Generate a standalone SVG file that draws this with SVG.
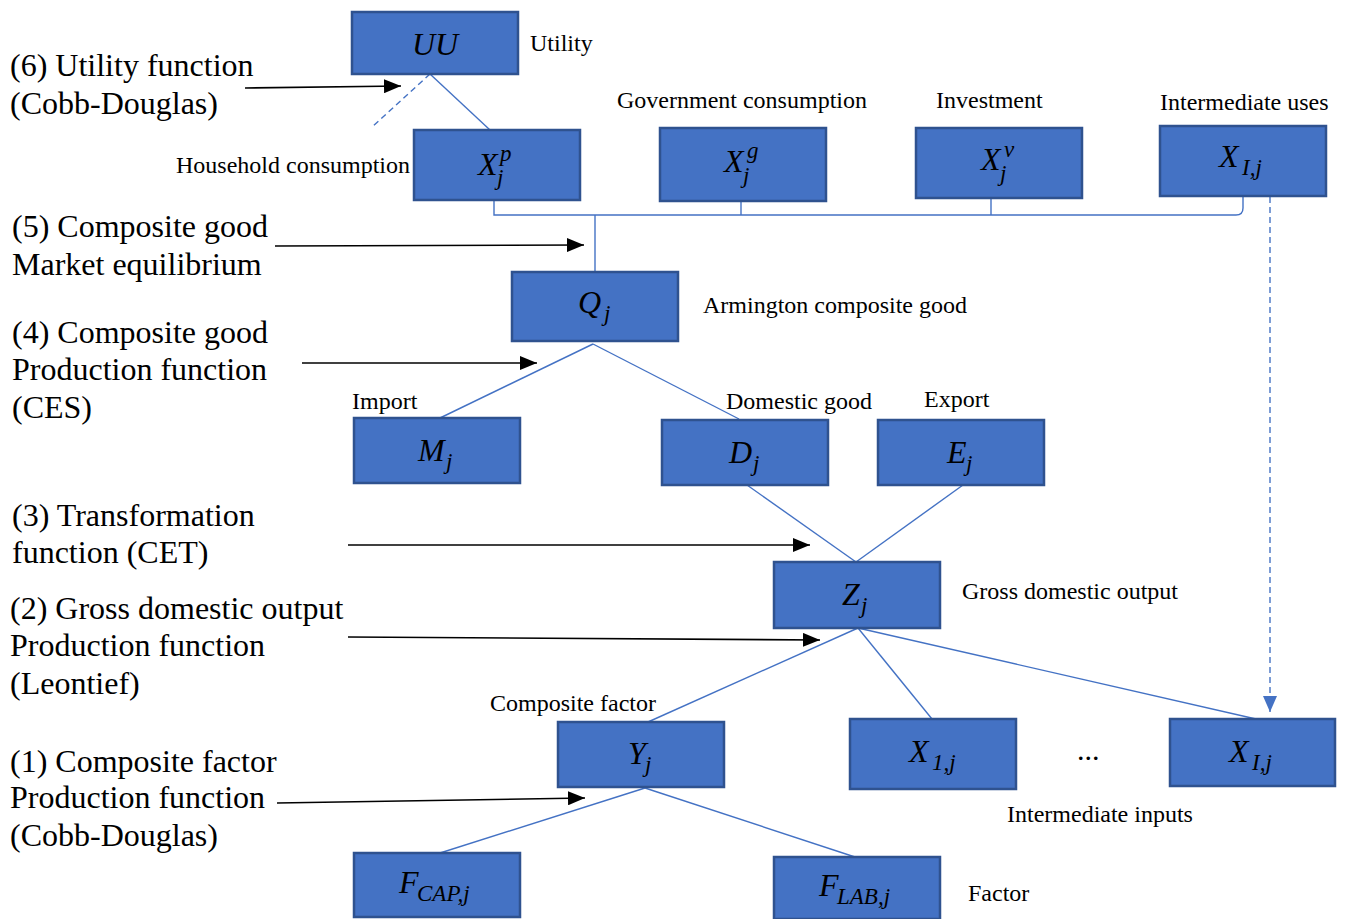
<svg xmlns="http://www.w3.org/2000/svg" width="1346" height="919" viewBox="0 0 1346 919">
  <style>
    .box { fill: #4472C4; stroke: #2F528F; stroke-width: 2.5; }
    .link { fill: none; stroke: #4472C4; stroke-width: 1.4; }
    .dash { fill: none; stroke: #4472C4; stroke-width: 1.4; stroke-dasharray: 6 4; }
    .ptr { fill: none; stroke: #000; stroke-width: 1.6; }
    .big { font-family: "Liberation Serif", "Times New Roman", serif; font-size: 32px; fill: #000; }
    .lbl { font-family: "Liberation Serif", "Times New Roman", serif; font-size: 24px; fill: #000; }
    .m { font-family: "Liberation Serif", "Times New Roman", serif; font-style: italic; font-size: 32px; fill: #000; }
    .s { font-size: 23px; }
  </style>
  <defs>
    <marker id="blk" viewBox="0 0 10 10" refX="10" refY="5" markerWidth="17" markerHeight="14" markerUnits="userSpaceOnUse" orient="auto" preserveAspectRatio="none">
      <path d="M0,0 L10,5 L0,10 Z" fill="#000"/>
    </marker>
    <marker id="blu" viewBox="0 0 10 10" refX="10" refY="5" markerWidth="16" markerHeight="14" markerUnits="userSpaceOnUse" orient="auto" preserveAspectRatio="none">
      <path d="M0,0 L10,5 L0,10 Z" fill="#4472C4"/>
    </marker>
  </defs>

  <!-- tree connectors -->
  <g id="connectors">
    <line class="link" x1="430" y1="74" x2="490" y2="130"/>
    <line class="dash" x1="430" y1="74" x2="371" y2="128"/>
    <!-- final-demand bus -->
    <path class="link" d="M494,200 V215 H1236 Q1243,215 1243,208 V196"/>
    <line class="link" x1="741" y1="201" x2="741" y2="215"/>
    <line class="link" x1="991" y1="198" x2="991" y2="215"/>
    <line class="link" x1="595" y1="215" x2="595" y2="271"/>
    <line class="dash" x1="1270" y1="197" x2="1270" y2="712" marker-end="url(#blu)"/>
    <!-- Armington split -->
    <line class="link" x1="593" y1="344" x2="440" y2="418"/>
    <line class="link" x1="593" y1="344" x2="739" y2="419"/>
    <!-- CET -->
    <line class="link" x1="747" y1="485" x2="856" y2="562"/>
    <line class="link" x1="963" y1="485" x2="856" y2="562"/>
    <!-- Leontief -->
    <line class="link" x1="858" y1="628" x2="648" y2="722"/>
    <line class="link" x1="858" y1="628" x2="932" y2="719"/>
    <line class="link" x1="858" y1="628" x2="1256" y2="719"/>
    <!-- factor nest -->
    <line class="link" x1="645" y1="788" x2="440" y2="853"/>
    <line class="link" x1="645" y1="788" x2="855" y2="857"/>
    <!-- level pointers -->
    <line class="ptr" x1="245" y1="88" x2="401" y2="86" marker-end="url(#blk)"/>
    <line class="ptr" x1="275" y1="246" x2="584" y2="245" marker-end="url(#blk)"/>
    <line class="ptr" x1="302" y1="363" x2="537" y2="363" marker-end="url(#blk)"/>
    <line class="ptr" x1="348" y1="545" x2="810" y2="545" marker-end="url(#blk)"/>
    <line class="ptr" x1="348" y1="637" x2="820" y2="640" marker-end="url(#blk)"/>
    <line class="ptr" x1="277" y1="803" x2="585" y2="798" marker-end="url(#blk)"/>
  </g>

  <!-- level descriptions -->
  <g id="levels" class="big">
    <text x="10" y="76">(6) Utility function</text>
    <text x="10" y="114">(Cobb-Douglas)</text>
    <text x="12" y="237">(5) Composite good</text>
    <text x="12" y="275">Market equilibrium</text>
    <text x="12" y="343">(4) Composite good</text>
    <text x="12" y="380">Production function</text>
    <text x="12" y="418">(CES)</text>
    <text x="12" y="526">(3) Transformation</text>
    <text x="12" y="563">function (CET)</text>
    <text x="10" y="619">(2) Gross domestic output</text>
    <text x="10" y="656">Production function</text>
    <text x="10" y="694">(Leontief)</text>
    <text x="10" y="772">(1) Composite factor</text>
    <text x="10" y="808">Production function</text>
    <text x="10" y="846">(Cobb-Douglas)</text>
  </g>

  <!-- node captions -->
  <g id="captions" class="lbl">
    <text x="530" y="51">Utility</text>
    <text x="617" y="108">Government consumption</text>
    <text x="936" y="108">Investment</text>
    <text x="1160" y="110">Intermediate uses</text>
    <text x="176" y="173">Household consumption</text>
    <text x="703" y="313">Armington composite good</text>
    <text x="352" y="409">Import</text>
    <text x="726" y="409">Domestic good</text>
    <text x="924" y="407">Export</text>
    <text x="962" y="599">Gross domestic output</text>
    <text x="490" y="711">Composite factor</text>
    <text x="1077" y="760" font-size="30">...</text>
    <text x="1007" y="822">Intermediate inputs</text>
    <text x="968" y="901">Factor</text>
  </g>

  <g id="UU">
    <rect class="box" x="352" y="12" width="166" height="62"/>
    <text class="m" x="435" y="55" text-anchor="middle">UU</text>
  </g>
  <g id="Xp">
    <rect class="box" x="414" y="130" width="166" height="70"/>
    <text class="m" x="478" y="175">X<tspan class="s" x="500" y="161">p</tspan><tspan class="s" x="497" y="185">j</tspan></text>
  </g>
  <g id="Xg">
    <rect class="box" x="660" y="128" width="166" height="73"/>
    <text class="m" x="724" y="172">X<tspan class="s" x="747" y="158">g</tspan><tspan class="s" x="743" y="183">j</tspan></text>
  </g>
  <g id="Xv">
    <rect class="box" x="916" y="128" width="166" height="70"/>
    <text class="m" x="981" y="170">X<tspan class="s" x="1004" y="157">v</tspan><tspan class="s" x="1000" y="181">j</tspan></text>
  </g>
  <g id="XIj-demand">
    <rect class="box" x="1160" y="126" width="166" height="70"/>
    <text class="m" x="1219" y="167">X<tspan class="s" x="1242" y="175">I,j</tspan></text>
  </g>
  <g id="Q">
    <rect class="box" x="512" y="272" width="166" height="69"/>
    <text class="m" x="578" y="313">Q<tspan class="s" x="604" y="321">j</tspan></text>
  </g>
  <g id="M">
    <rect class="box" x="354" y="418" width="166" height="65"/>
    <text class="m" x="418" y="461">M<tspan class="s" x="446" y="469">j</tspan></text>
  </g>
  <g id="D">
    <rect class="box" x="662" y="420" width="166" height="65"/>
    <text class="m" x="729" y="463">D<tspan class="s" x="753" y="471">j</tspan></text>
  </g>
  <g id="E">
    <rect class="box" x="878" y="420" width="166" height="65"/>
    <text class="m" x="947" y="463">E<tspan class="s" x="966" y="471">j</tspan></text>
  </g>
  <g id="Z">
    <rect class="box" x="774" y="562" width="166" height="66"/>
    <text class="m" x="842" y="605">Z<tspan class="s" x="861" y="613">j</tspan></text>
  </g>
  <g id="Y">
    <rect class="box" x="558" y="722" width="166" height="65"/>
    <text class="m" x="628" y="764">Y<tspan class="s" x="645" y="772">j</tspan></text>
  </g>
  <g id="X1j">
    <rect class="box" x="850" y="719" width="166" height="70"/>
    <text class="m" x="909" y="762">X<tspan class="s" x="932" y="770">1,j</tspan></text>
  </g>
  <g id="XIj-input">
    <rect class="box" x="1170" y="719" width="165" height="67"/>
    <text class="m" x="1229" y="762">X<tspan class="s" x="1252" y="770">I,j</tspan></text>
  </g>
  <g id="Fcap">
    <rect class="box" x="354" y="853" width="166" height="64"/>
    <text class="m" x="399" y="893">F<tspan class="s" x="417" y="901">CAP,j</tspan></text>
  </g>
  <g id="Flab">
    <rect class="box" x="774" y="857" width="166" height="62"/>
    <text class="m" x="819" y="896">F<tspan class="s" x="837" y="904">LAB,j</tspan></text>
  </g>
</svg>
